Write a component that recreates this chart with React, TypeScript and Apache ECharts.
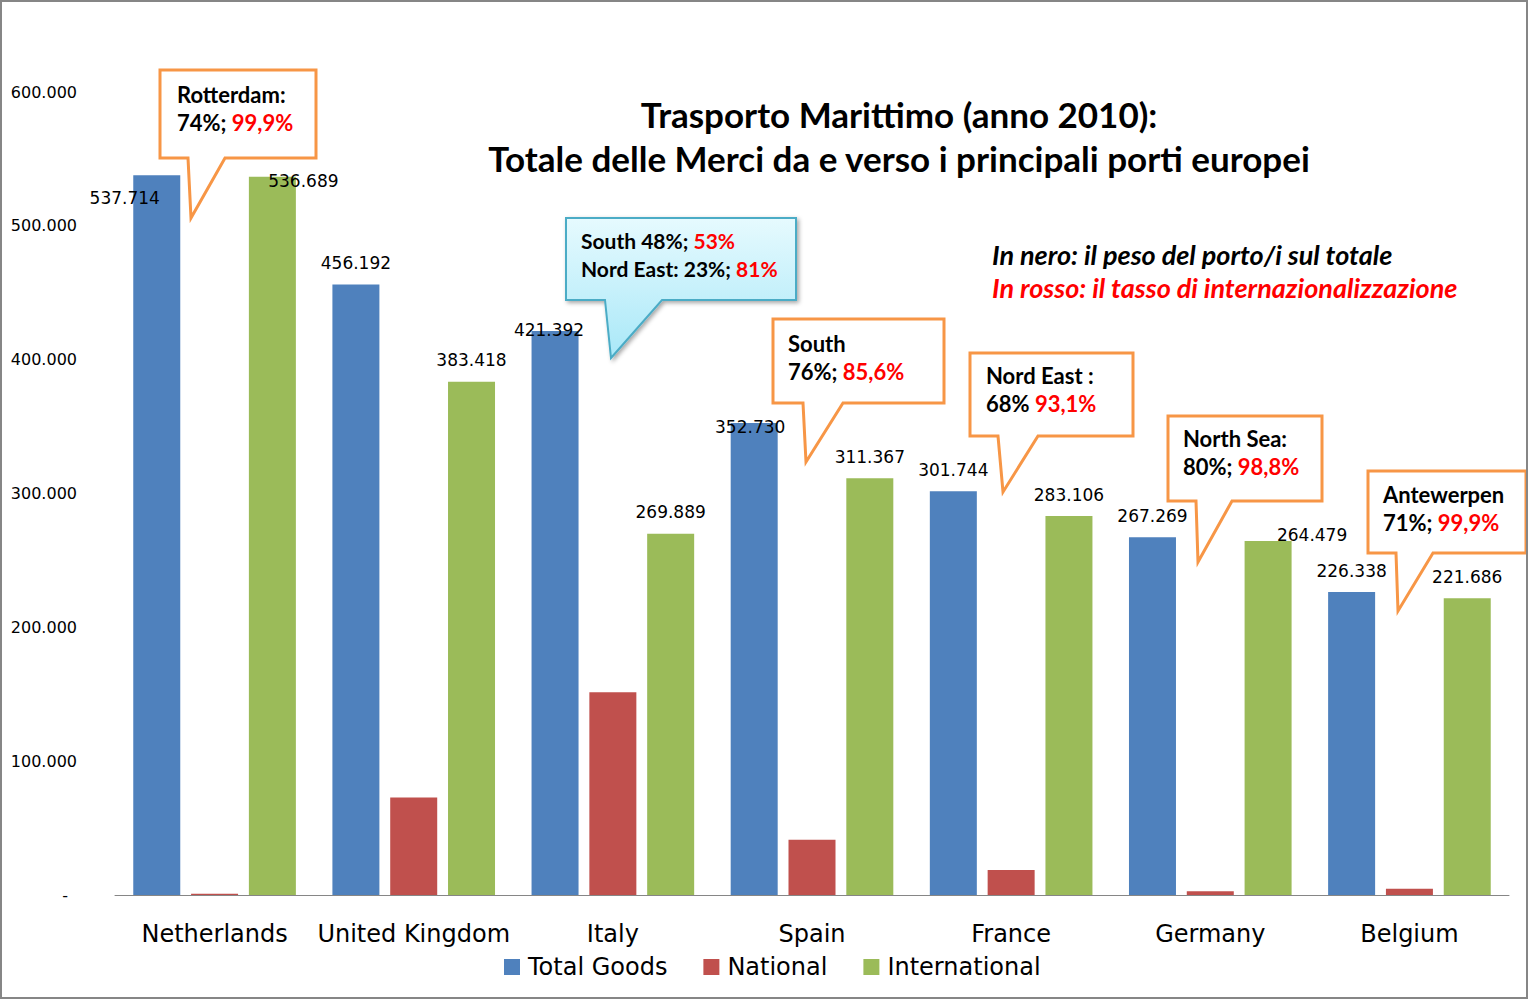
import React, { useEffect, useRef } from "react";
import * as echarts from "echarts";

const categories = ["Netherlands", "United Kingdom", "Italy", "Spain", "France", "Germany", "Belgium"];
const totalGoods = [537714, 456192, 421392, 352730, 301744, 267269, 226338];
const national = [1025, 72774, 151503, 41363, 18638, 2790, 4652];
const international = [536689, 383418, 269889, 311367, 283106, 264479, 221686];
const seriesNames = ["Total Goods", "National", "International"];
const yTicks = [0, 100000, 200000, 300000, 400000, 500000, 600000];

// label offsets (annotation placement only)
const totalOffsets: Record<number, number[]> = { 0: [-32, 44], 2: [-6, 20], 3: [-4, 26] };
const intlOffsets: Record<number, number[]> = { 0: [31, 26], 5: [44, 15] };

const fmt = (v: number) => {
  if (v === 0) return "-";
  const s = Math.round(v).toString();
  return s.replace(/\B(?=(\d{3})+(?!\d))/g, ".");
};

const ORANGE = "#F79646";
const NUMFONT = "DejaVu Sans";
const CALLFONT = "Lato";

function callout(points: number[][], x: number, y: number, l1: string, l2: string, blue = false, size = 22) {
  const poly: any = {
    type: "polygon",
    shape: { points },
    style: blue
      ? {
          fill: new echarts.graphic.LinearGradient(0, 0, 0, 1, [
            { offset: 0, color: "#E6FAFE" },
            { offset: 1, color: "#A9E8F8" },
          ]),
          stroke: "#4BACC6",
          lineWidth: 2,
          shadowBlur: 4,
          shadowColor: "rgba(0,0,0,0.35)",
          shadowOffsetX: 2,
          shadowOffsetY: 2,
        }
      : { fill: "#fff", stroke: ORANGE, lineWidth: 3 },
    z: 100,
  };
  const rich = {
    b: { fontFamily: CALLFONT, fontWeight: "bold", fontSize: size, fill: "#000", lineHeight: 28 },
    r: { fontFamily: CALLFONT, fontWeight: "bold", fontSize: size, fill: "#FF0000", lineHeight: 28 },
  };
  const txt: any = {
    type: "text",
    x,
    y,
    z: 101,
    style: {
      text: l1 + "\n" + l2,
      rich,
      font: `bold ${size}px ${CALLFONT}`,
      fill: "#000",
      lineHeight: 28,
      textVerticalAlign: "top",
    },
  };
  return [poly, txt];
}

export default function App() {
  const ref = useRef<HTMLDivElement>(null);
  useEffect(() => {
    if (!ref.current) return;
    const chart = echarts.init(ref.current, undefined, { renderer: "svg" });

    const mk = (vals: number[], offs: Record<number, number[]>) =>
      vals.map((v, i) => (offs[i] ? { value: v, label: { offset: offs[i] } } : v));

    const labelBase = {
      show: true,
      position: "top",
      distance: 13,
      fontFamily: NUMFONT,
      fontSize: 17,
      color: "#000",
      formatter: (p: any) => fmt(p.value),
    };

    const graphics: any[] = [
      {
        type: "rect",
        shape: { x: 1, y: 1, width: 1526, height: 997 },
        style: { fill: "none", stroke: "#868686", lineWidth: 2 },
        z: 200,
        silent: true,
      },
      {
        type: "text",
        x: 899,
        y: 136,
        style: {
          text: "Trasporto Marittimo (anno 2010):\nTotale delle Merci da e verso i principali porti europei",
          font: `bold 35px ${CALLFONT}`,
          fill: "#000",
          textAlign: "center",
          textVerticalAlign: "middle",
          lineHeight: 44,
        },
      },
      {
        type: "text",
        x: 992,
        y: 254,
        style: {
          text: "In nero: il peso del porto/i sul totale",
          font: `italic bold 27px ${CALLFONT}`,
          fill: "#000",
          textVerticalAlign: "middle",
        },
      },
      {
        type: "text",
        x: 992,
        y: 287,
        style: {
          text: "In rosso: il tasso di internazionalizzazione",
          font: `italic bold 27px ${CALLFONT}`,
          fill: "#FF0000",
          textVerticalAlign: "middle",
        },
      },
      ...callout(
        [[160, 70], [316, 70], [316, 158], [225, 158], [191, 218], [188, 158], [160, 158]],
        177, 80, "{b|Rotterdam:}", "{b|74%; }{r|99,9%}"
      ),
      ...callout(
        [[566, 218], [796, 218], [796, 300], [662, 300], [611, 358], [605, 300], [566, 300]],
        581, 226, "{b|South 48%; }{r|53%}", "{b|Nord East: 23%; }{r|81%}", true, 21
      ),
      ...callout(
        [[773, 319], [944, 319], [944, 403], [843, 403], [806, 462], [803, 403], [773, 403]],
        788, 329, "{b|South}", "{b|76%; }{r|85,6%}"
      ),
      ...callout(
        [[970, 353], [1133, 353], [1133, 436], [1038, 436], [1003, 492], [998, 436], [970, 436]],
        986, 361, "{b|Nord East :}", "{b|68% }{r|93,1%}"
      ),
      ...callout(
        [[1168, 416], [1322, 416], [1322, 501], [1232, 501], [1198, 562], [1196, 501], [1168, 501]],
        1183, 424, "{b|North Sea:}", "{b|80%; }{r|98,8%}"
      ),
      ...callout(
        [[1368, 471], [1526, 471], [1526, 553], [1433, 553], [1398, 611], [1396, 553], [1368, 553]],
        1383, 480, "{b|Antewerpen}", "{b|71%; }{r|99,9%}"
      ),
    ];

    chart.setOption({
      animation: false,
      backgroundColor: "#fff",
      grid: { left: 115, right: 19, top: 92, bottom: 104, containLabel: false },
      legend: {
        data: seriesNames,
        top: 950,
        left: 499,
        icon: "rect",
        itemWidth: 16,
        itemHeight: 16,
        itemGap: 36,
        textStyle: { fontFamily: NUMFONT, fontSize: 24, color: "#000", padding: [0, 0, 0, 3] },
      },
      xAxis: {
        type: "category",
        data: categories,
        axisTick: { show: false },
        axisLine: { lineStyle: { color: "#868686", width: 1 } },
        axisLabel: { fontFamily: NUMFONT, fontSize: 24, color: "#000", margin: 27, interval: 0 },
      },
      yAxis: {
        type: "value",
        min: yTicks[0],
        max: yTicks[yTicks.length - 1],
        interval: yTicks[1] - yTicks[0],
        axisLine: { show: false },
        axisTick: { show: false },
        splitLine: { show: false },
        axisLabel: {
          margin: 38,
          fontFamily: NUMFONT,
          fontSize: 16,
          color: "#000",
          formatter: (v: number) => (v === 0 ? "{z|-}" : fmt(v)),
          rich: { z: { fontFamily: NUMFONT, fontSize: 16, color: "#000", padding: [0, 9, 0, 0] } },
        },
      },
      series: [
        {
          name: seriesNames[0],
          type: "bar",
          data: mk(totalGoods, totalOffsets),
          barWidth: 47,
          barGap: "23%",
          itemStyle: { color: "#4F81BD" },
          label: labelBase,
        },
        {
          name: seriesNames[1],
          type: "bar",
          data: national,
          barWidth: 47,
          barGap: "23%",
          itemStyle: { color: "#C0504D" },
        },
        {
          name: seriesNames[2],
          type: "bar",
          data: mk(international, intlOffsets),
          barWidth: 47,
          barGap: "23%",
          itemStyle: { color: "#9BBB59" },
          label: labelBase,
        },
      ],
      graphic: graphics,
    });
    return () => chart.dispose();
  }, []);

  return (
    <div
      ref={ref}
      style={{ position: "absolute", left: 0, top: 0, width: 1528, height: 999, background: "#fff" }}
    />
  );
}
